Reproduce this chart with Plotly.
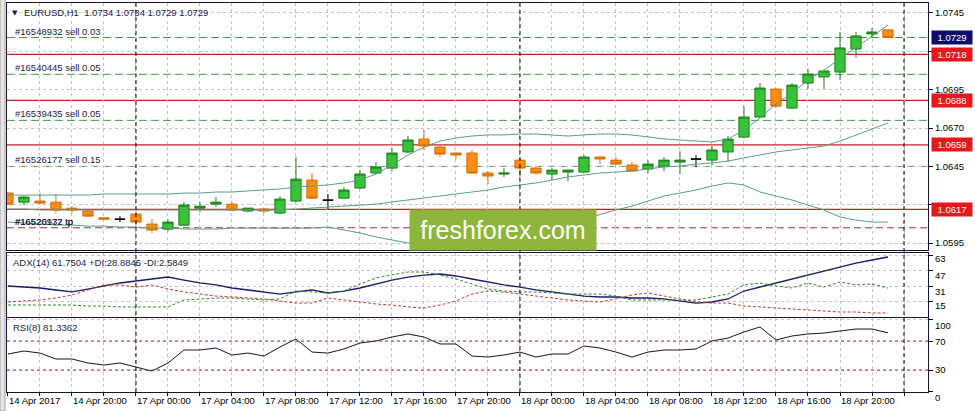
import plotly.graph_objects as go
from plotly.subplots import make_subplots

# ---------------- data ----------------
bars = list(range(56))  # hourly bars, 14 Apr 16:00 .. 18 Apr 23:00
time_labels = ["14 Apr 2017", "14 Apr 20:00", "17 Apr 00:00", "17 Apr 04:00", "17 Apr 08:00",
               "17 Apr 12:00", "17 Apr 16:00", "17 Apr 20:00", "18 Apr 00:00", "18 Apr 04:00",
               "18 Apr 08:00", "18 Apr 12:00", "18 Apr 16:00", "18 Apr 20:00"]

opens = [1.06276, 1.06217, 1.06224, 1.06217, 1.06178, 1.06159, 1.06115, 1.06106, 1.06139, 1.06074,
         1.06041, 1.06067, 1.06178, 1.06204, 1.06204, 1.06159, 1.06172, 1.06146, 1.06224, 1.06361,
         1.06230, 1.06243, 1.06309, 1.06407, 1.06439, 1.06544, 1.06628, 1.06576, 1.06537, 1.06537,
         1.06407, 1.06400, 1.06491, 1.06439, 1.06400, 1.06413, 1.06413, 1.06511, 1.06491, 1.06459,
         1.06433, 1.06452, 1.06478, 1.06498, 1.06491, 1.06544, 1.06641, 1.06772, 1.06954, 1.06830,
         1.06993, 1.07033, 1.07065, 1.07215, 1.07313, 1.07340]
highs = [1.06283, 1.06256, 1.06276, 1.06270, 1.06191, 1.06165, 1.06118, 1.06126, 1.06159, 1.06106,
         1.06106, 1.06217, 1.06217, 1.06250, 1.06217, 1.06178, 1.06178, 1.06256, 1.06511, 1.06407,
         1.06270, 1.06315, 1.06426, 1.06478, 1.06570, 1.06648, 1.06687, 1.06583, 1.06540, 1.06557,
         1.06420, 1.06439, 1.06504, 1.06445, 1.06439, 1.06430, 1.06524, 1.06515, 1.06511, 1.06478,
         1.06491, 1.06511, 1.06550, 1.06524, 1.06583, 1.06648, 1.06843, 1.06993, 1.06961, 1.06993,
         1.07085, 1.07075, 1.07326, 1.07326, 1.07352, 1.07340]
lows = [1.06198, 1.06198, 1.06204, 1.06146, 1.06146, 1.06120, 1.06100, 1.06087, 1.06067, 1.06015,
        1.06028, 1.06060, 1.06152, 1.06185, 1.06159, 1.06152, 1.06146, 1.06139, 1.06217, 1.06237,
        1.06172, 1.06237, 1.06302, 1.06400, 1.06420, 1.06537, 1.06557, 1.06511, 1.06498, 1.06400,
        1.06335, 1.06380, 1.06380, 1.06400, 1.06361, 1.06354, 1.06407, 1.06465, 1.06460, 1.06415,
        1.06407, 1.06420, 1.06400, 1.06446, 1.06459, 1.06478, 1.06635, 1.06765, 1.06830, 1.06825,
        1.06954, 1.06954, 1.07013, 1.07157, 1.07287, 1.07290]
closes = [1.06204, 1.06250, 1.06211, 1.06165, 1.06165, 1.06126, 1.06106, 1.06106, 1.06087, 1.06035,
          1.06087, 1.06198, 1.06191, 1.06217, 1.06165, 1.06178, 1.06159, 1.06237, 1.06367, 1.06243,
          1.06230, 1.06296, 1.06400, 1.06446, 1.06537, 1.06622, 1.06583, 1.06530, 1.06524, 1.06407,
          1.06387, 1.06407, 1.06439, 1.06407, 1.06426, 1.06426, 1.06511, 1.06498, 1.06465, 1.06420,
          1.06465, 1.06491, 1.06491, 1.06498, 1.06557, 1.06628, 1.06772, 1.06961, 1.06843, 1.06980,
          1.07052, 1.07072, 1.07222, 1.07300, 1.07326, 1.07290]

bb_upper = [1.06263, 1.06263, 1.06263, 1.06263, 1.06263, 1.06263, 1.06270, 1.06270, 1.06270, 1.06270,
            1.06270, 1.06276, 1.06276, 1.06283, 1.06283, 1.06290, 1.06296, 1.06303, 1.06316, 1.06322,
            1.06329, 1.06342, 1.06361, 1.06400, 1.06459, 1.06524, 1.06576, 1.06615, 1.06635, 1.06648,
            1.06655, 1.06655, 1.06661, 1.06661, 1.06655, 1.06648, 1.06655, 1.06661, 1.06661, 1.06655,
            1.06642, 1.06629, 1.06622, 1.06615, 1.06609, 1.06629, 1.06687, 1.06765, 1.06857, 1.06928,
            1.07013, 1.07078, 1.07150, 1.07222, 1.07300, 1.07372]
bb_middle = [1.06172, 1.06172, 1.06166, 1.06166, 1.06166, 1.06166, 1.06166, 1.06166, 1.06166, 1.06166,
             1.06166, 1.06166, 1.06166, 1.06166, 1.06166, 1.06166, 1.06166, 1.06166, 1.06172, 1.06178,
             1.06185, 1.06191, 1.06198, 1.06204, 1.06218, 1.06231, 1.06244, 1.06257, 1.06270, 1.06283,
             1.06296, 1.06316, 1.06329, 1.06342, 1.06361, 1.06381, 1.06394, 1.06407, 1.06413, 1.06420,
             1.06433, 1.06446, 1.06452, 1.06465, 1.06472, 1.06485, 1.06505, 1.06524, 1.06544, 1.06557,
             1.06570, 1.06583, 1.06615, 1.06655, 1.06694, 1.06733]
bb_lower = [1.06087, 1.06081, 1.06074, 1.06068, 1.06068, 1.06061, 1.06061, 1.06055, 1.06055, 1.06048,
            1.06048, 1.06042, 1.06042, 1.06042, 1.06048, 1.06048, 1.06048, 1.06048, 1.06048, 1.06048,
            1.06055, 1.06035, 1.06016, 1.05990, 1.05970, 1.05951, 1.05938, 1.05931, 1.05931, 1.05938,
            1.05951, 1.05964, 1.05983, 1.06003, 1.06035, 1.06074, 1.06107, 1.06139, 1.06166, 1.06191,
            1.06224, 1.06257, 1.06276, 1.06296, 1.06322, 1.06342, 1.06329, 1.06283, 1.06257, 1.06231,
            1.06198, 1.06166, 1.06120, 1.06100, 1.06087, 1.06087]

adx = [31.1, 30.0, 29.0, 26.9, 24.8, 27.9, 31.1, 34.3, 36.4, 38.5, 40.6, 37.4, 34.3, 32.2, 29.0,
       26.9, 24.8, 22.6, 24.8, 26.9, 23.7, 25.8, 29.0, 33.2, 37.4, 40.6, 42.7, 43.8, 41.7, 38.5,
       35.3, 32.2, 30.0, 26.9, 24.8, 22.6, 20.5, 19.5, 19.5, 18.4, 18.4, 17.4, 15.2, 13.1, 14.2,
       17.4, 25.8, 30.0, 34.3, 38.5, 42.7, 47.0, 51.2, 55.4, 58.6, 61.75]
plus_di = [11.0, 11.0, 11.0, 11.0, 11.0, 9.9, 9.9, 8.9, 8.9, 8.9, 8.9, 16.3, 17.4, 18.4, 18.4,
           17.4, 16.3, 17.4, 25.8, 24.8, 23.7, 25.8, 33.2, 39.6, 42.7, 45.9, 45.9, 42.7, 38.5, 33.2,
           27.9, 25.8, 24.8, 24.8, 23.7, 22.6, 22.6, 22.6, 20.5, 16.3, 16.3, 16.3, 16.3, 16.3, 19.5,
           22.6, 32.2, 34.3, 31.1, 29.0, 34.3, 30.0, 35.3, 32.2, 33.2, 28.88]
minus_di = [14.2, 15.2, 16.3, 18.4, 21.6, 26.9, 32.2, 32.2, 30.0, 32.2, 27.9, 24.8, 22.6, 20.5, 19.5,
            18.4, 17.4, 15.2, 13.1, 13.1, 18.4, 16.3, 14.2, 12.1, 11.0, 8.9, 7.8, 11.0, 15.2, 22.6,
            25.8, 24.8, 22.6, 20.5, 18.4, 16.3, 15.2, 14.2, 17.4, 21.6, 23.7, 20.5, 17.4, 14.2, 13.1,
            13.1, 10.0, 8.9, 7.8, 6.8, 5.7, 4.7, 3.6, 3.6, 2.6, 2.58]
rsi = [52.1, 56.2, 53.4, 45.2, 45.2, 39.7, 36.9, 39.7, 34.1, 28.6, 39.7, 57.6, 57.6, 60.3, 50.7,
       53.4, 49.3, 61.7, 72.8, 54.8, 53.4, 59.0, 67.2, 70.0, 75.5, 79.7, 75.5, 65.9, 65.9, 49.3,
       47.9, 50.7, 54.8, 47.9, 52.1, 52.1, 63.1, 60.3, 54.8, 47.9, 54.8, 57.6, 57.6, 59.0, 70.0,
       74.1, 82.4, 89.3, 71.4, 76.9, 79.7, 81.0, 83.8, 86.5, 86.5, 81.34]

level_prices = [1.0718, 1.0688, 1.0659, 1.0617]
order_names = ["#16548932 sell 0.03", "#16540445 sell 0.05", "#16539435 sell 0.05", "#16526177 sell 0.15"]
order_prices = [1.0729, 1.0705, 1.0675, 1.0645]
tp_names = ["#16520932 tp", "#16526177 tp"]
tp_price = 1.0605
bid_price = 1.0729
price_ticks = [1.0745, 1.0720, 1.0695, 1.0670, 1.0645, 1.0620, 1.0595]
price_ticktext = ["1.0745", "", "1.0695", "1.0670", "1.0645", "", "1.0595"]
adx_ticks = [63, 47, 31, 15]
adx_ticktext = ["63", "47", "31", "15"]
rsi_ticks = [100, 70, 30, 0]
rsi_ticktext = ["100", "70", "30", "0"]
rsi_levels = [70, 30]
separators = [8, 32, 56]
header = "EURUSD,H1  1.0734 1.0734 1.0729 1.0729"
adx_title = "ADX(14) 61.7504 +DI:28.8845 -DI:2.5849"
rsi_title = "RSI(8) 81.3362"

# ---------------- styles ----------------
FONT = "Liberation Sans"
FRAME = "#15153a"
GRID = "#c4c4c4"
RED_LINE = "#c42222"
RED_LBL = "#e5191d"
ORDER_GREEN = "#3f9a3f"
BAND = "#5a9e84"
TXT = "#1c1c46"

fig = make_subplots(rows=3, cols=1, shared_xaxes=True, vertical_spacing=0.0)

doji = [o == c for o, c in zip(opens, closes)]
def pick(arr, keep):
    return [v if k else None for v, k in zip(arr, keep)]
normal = [not d for d in doji]

fig.add_trace(go.Candlestick(
    x=bars, open=pick(opens, normal), high=pick(highs, normal), low=pick(lows, normal),
    close=pick(closes, normal),
    increasing=dict(fillcolor="#35c435", line=dict(color="#1f7d1f", width=1)),
    decreasing=dict(fillcolor="#ff8c12", line=dict(color="#d0700e", width=1)),
    whiskerwidth=0, showlegend=False, hoverinfo="skip"), row=1, col=1)
fig.add_trace(go.Candlestick(
    x=bars, open=pick(opens, doji), high=pick(highs, doji), low=pick(lows, doji),
    close=pick(closes, doji),
    increasing=dict(fillcolor="#000000", line=dict(color="#000000", width=1)),
    decreasing=dict(fillcolor="#000000", line=dict(color="#000000", width=1)),
    whiskerwidth=0, showlegend=False, hoverinfo="skip"), row=1, col=1)

for band in (bb_upper, bb_middle, bb_lower):
    fig.add_trace(go.Scatter(x=bars, y=band, mode="lines", line=dict(color=BAND, width=1),
                             showlegend=False, hoverinfo="skip"), row=1, col=1)

fig.add_trace(go.Scatter(x=bars, y=adx, mode="lines", line=dict(color="#1a1a6e", width=1.3),
                         showlegend=False, hoverinfo="skip"), row=2, col=1)
fig.add_trace(go.Scatter(x=bars, y=plus_di, mode="lines", line=dict(color="#2f8a2f", width=1, dash="3px,2px"),
                         showlegend=False, hoverinfo="skip"), row=2, col=1)
fig.add_trace(go.Scatter(x=bars, y=minus_di, mode="lines", line=dict(color="#c43a3a", width=1, dash="3px,2px"),
                         showlegend=False, hoverinfo="skip"), row=2, col=1)
fig.add_trace(go.Scatter(x=bars, y=rsi, mode="lines", line=dict(color="#141430", width=1),
                         showlegend=False, hoverinfo="skip"), row=3, col=1)

# horizontal lines in main chart
for p in order_prices:
    fig.add_shape(type="line", xref="paper", x0=0, x1=1, yref="y", y0=p, y1=p,
                  line=dict(color=ORDER_GREEN, width=1, dash="8px,4px"), layer="below")
fig.add_shape(type="line", xref="paper", x0=0, x1=1, yref="y", y0=tp_price, y1=tp_price,
              line=dict(color="#a83030", width=1, dash="7px,4px"), layer="below")
for p in level_prices:
    fig.add_shape(type="line", xref="paper", x0=0, x1=1, yref="y", y0=p, y1=p,
                  line=dict(color=RED_LINE, width=1.2), layer="below")
for lv in rsi_levels:
    fig.add_shape(type="line", xref="paper", x0=0, x1=1, yref="y3", y0=lv, y1=lv,
                  line=dict(color="#c03030", width=1, dash="3px,3px"))
for s in separators:
    fig.add_shape(type="line", xref="x", x0=s, x1=s, yref="paper", y0=0, y1=1,
                  line=dict(color="#000000", width=1, dash="4px,3px"))
# window frame strip on the left
fig.add_shape(type="rect", xref="paper", x0=-7 / 921, x1=-2 / 921, yref="paper", y0=-19 / 389, y1=1.01,
              fillcolor="#e6e6e6", line=dict(color="#a0a0a0", width=1))

ann = []
for name, p in zip(order_names, order_prices):
    ann.append(dict(text=name, xref="paper", x=0, xshift=6, xanchor="left", yref="y", y=p,
                    yanchor="bottom", yshift=-1, showarrow=False, font=dict(family=FONT, size=9.5, color=TXT)))
for name in tp_names:
    ann.append(dict(text=name, xref="paper", x=0, xshift=6, xanchor="left", yref="y", y=tp_price,
                    yanchor="bottom", yshift=-1, showarrow=False, font=dict(family=FONT, size=9.5, color=TXT)))
for p in level_prices:
    ann.append(dict(text="%.4f" % p, xref="paper", x=1, xshift=3, xanchor="left", yref="y", y=p,
                    yanchor="middle", showarrow=False, bgcolor=RED_LBL, borderpad=1, width=38,
                    font=dict(family=FONT, size=9.5, color="#ffffff")))
ann.append(dict(text="%.4f" % bid_price, xref="paper", x=1, xshift=3, xanchor="left", yref="y", y=bid_price,
                yanchor="middle", showarrow=False, bgcolor="#0c0c6a", borderpad=1, width=38,
                font=dict(family=FONT, size=9.5, color="#ffffff")))
# sub-window scale labels, drawn where the terminal places them (clamped inside each panel)
adx_label_paper = [0.3444, 0.3007, 0.2596, 0.2211]
for t, pos in zip(adx_ticktext, adx_label_paper):
    ann.append(dict(text=t, xref="paper", x=1, xshift=5, xanchor="left", yref="paper", y=pos,
                    yanchor="middle", showarrow=False, font=dict(family=FONT, size=9.5, color="#000000")))
rsi_label_paper = [0.1697, 0.1311, 0.0566]
for t, pos in zip(rsi_ticktext[:3], rsi_label_paper):
    ann.append(dict(text=t, xref="paper", x=1, xshift=5, xanchor="left", yref="paper",
                    y=pos, yanchor="middle", showarrow=False,
                    font=dict(family=FONT, size=9.5, color="#000000")))
ann.append(dict(text="▼", xref="paper", x=0, xshift=3, xanchor="left", yref="paper", y=1, yanchor="top",
                yshift=-4, showarrow=False, font=dict(family="DejaVu Sans", size=7, color=TXT)))
ann.append(dict(text=header, xref="paper", x=0, xshift=15, xanchor="left", yref="paper", y=1, yanchor="top",
                yshift=-2, showarrow=False, font=dict(family=FONT, size=9.5, color=TXT)))
ann.append(dict(text=adx_title, xref="paper", x=0, xshift=4, xanchor="left", yref="y2 domain", y=1,
                yanchor="top", yshift=-2, showarrow=False, font=dict(family=FONT, size=9.5, color=TXT)))
ann.append(dict(text=rsi_title, xref="paper", x=0, xshift=4, xanchor="left", yref="y3 domain", y=1,
                yanchor="top", yshift=-2, showarrow=False, font=dict(family=FONT, size=9.5, color=TXT)))
ann.append(dict(text="freshforex.com", xref="paper", x=0.5385, xanchor="center", yref="paper", y=0.4165,
                yanchor="middle", showarrow=False, bgcolor="#8db53c", borderpad=3, width=180, height=34,
                font=dict(family=FONT, size=25, color="#ffffff")))

tickvals = list(range(0, 58, 2))
ticktext = [time_labels[i // 4] if (i % 4 == 0 and i // 4 < len(time_labels)) else "" for i in tickvals]

axis_common = dict(showgrid=True, gridcolor=GRID, griddash="3px,3px", gridwidth=1,
                   showline=True, mirror=True, linecolor=FRAME, linewidth=1,
                   zeroline=False, tickfont=dict(family=FONT, size=9.5, color="#000000"))

fig.update_xaxes(range=[-0.06, 57.5], tickvals=tickvals, ticktext=ticktext, rangeslider_visible=False,
                 **axis_common)
fig.update_xaxes(showticklabels=False, row=1, col=1)
fig.update_xaxes(showticklabels=False, row=2, col=1)
fig.update_xaxes(showticklabels=True, ticks="outside", ticklen=3, tickcolor="#000000",
                 ticklabelposition="outside right", row=3, col=1)

fig.update_yaxes(side="right", ticks="outside", ticklen=4, tickcolor="#000000", **axis_common)
fig.update_yaxes(range=[1.05905, 1.07515], tickvals=price_ticks, ticktext=price_ticktext,
                 domain=[0.3650, 1.0], row=1, col=1)
fig.update_yaxes(range=[-1.67, 65.98], tickvals=adx_ticks, showticklabels=False,
                 domain=[0.1928, 0.3573], row=2, col=1)
fig.update_yaxes(range=[-0.3, 101.7], tickvals=rsi_ticks, ticktext=["", "", "", rsi_ticktext[3]],
                 showticklabels=True, ticklabelshift=6, domain=[0.0, 0.1902], row=3, col=1)

fig.update_layout(width=975, height=411, margin=dict(l=7, r=47, t=3, b=19, autoexpand=False),
                  paper_bgcolor="#ffffff", plot_bgcolor="#ffffff", boxgap=0.2, boxgroupgap=0.2,
                  annotations=ann, showlegend=False, font=dict(family=FONT, size=9.5))

fig.write_html("out.html", config={"displayModeBar": False},
               post_script="document.body.style.margin='0px';document.body.style.overflow='hidden';")
